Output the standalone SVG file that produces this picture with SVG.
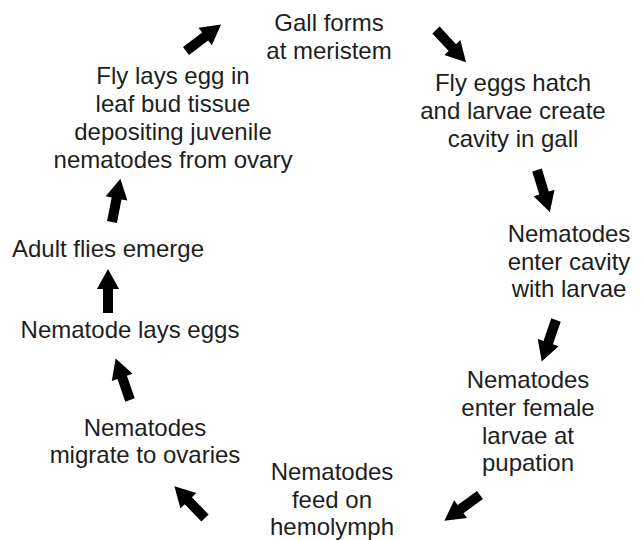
<svg xmlns="http://www.w3.org/2000/svg" width="642" height="540" viewBox="0 0 642 540">
<defs>
<style>
text{font-family:"Liberation Sans",Arial,sans-serif;font-size:24px;fill:#1e1e1e;text-anchor:middle}
.arr{fill:#000}
</style>
<path id="a" d="M0,-5 L24,-5 L24,-11 L44,0 L24,11 L24,5 L0,5 Z"/>
</defs>
<rect width="642" height="540" fill="#fff"/>
<g id="n1"><text x="329" y="31">Gall forms</text><text x="329" y="59">at meristem</text></g>
<g id="n2"><text x="513" y="91">Fly eggs hatch</text><text x="513" y="119">and larvae create</text><text x="513" y="147">cavity in gall</text></g>
<g id="n3"><text x="569" y="242">Nematodes</text><text x="569" y="270">enter cavity</text><text x="569" y="297">with larvae</text></g>
<g id="n4"><text x="528" y="388">Nematodes</text><text x="528" y="416">enter female</text><text x="528" y="444">larvae at</text><text x="528" y="471">pupation</text></g>
<g id="n5"><text x="332" y="480">Nematodes</text><text x="332" y="508">feed on</text><text x="332" y="535">hemolymph</text></g>
<g id="n6"><text x="145" y="436">Nematodes</text><text x="145" y="463">migrate to ovaries</text></g>
<g id="n7"><text x="130" y="338">Nematode lays eggs</text></g>
<g id="n8"><text x="108" y="257">Adult flies emerge</text></g>
<g id="n9"><text x="173" y="84">Fly lays egg in</text><text x="173" y="112">leaf bud tissue</text><text x="173" y="140">depositing juvenile</text><text x="173" y="168">nematodes from ovary</text></g>
<g id="connectors" class="arr">
<use href="#a" transform="translate(186,51) rotate(-37)"/>
<use href="#a" transform="translate(436,30) rotate(47)"/>
<use href="#a" transform="translate(537,170) rotate(73)"/>
<use href="#a" transform="translate(556,320) rotate(109)"/>
<use href="#a" transform="translate(480,495) rotate(144)"/>
<use href="#a" transform="translate(205,518) rotate(-134)"/>
<use href="#a" transform="translate(130,400) rotate(-109)"/>
<use href="#a" transform="translate(108,313) rotate(-90)"/>
<use href="#a" transform="translate(112,222) rotate(-79)"/>
</g>
</svg>
